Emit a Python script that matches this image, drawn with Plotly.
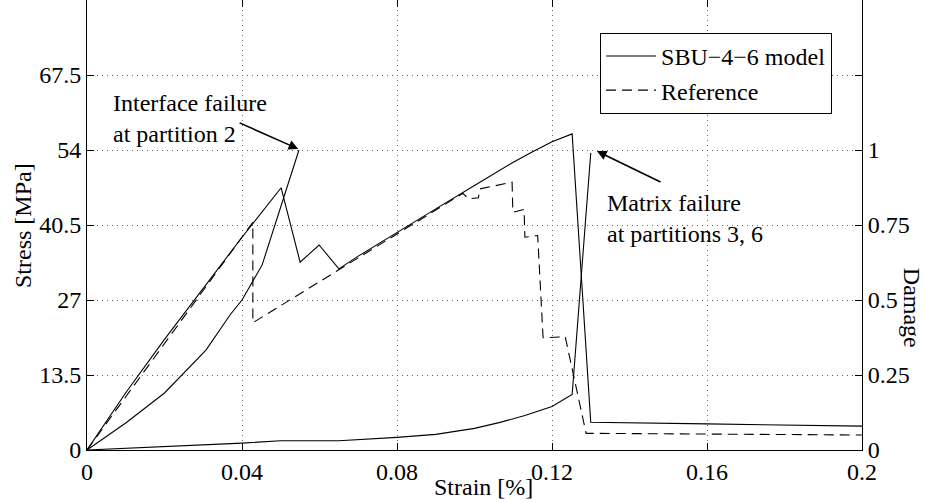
import plotly.graph_objects as go

# Stress-strain response of the SBU-4-6 model (solid) and the reference (dashed)
strain_model = [0.0, 0.01, 0.02, 0.03, 0.04, 0.0501, 0.055, 0.0599, 0.065, 0.07, 0.08,
                0.09, 0.1, 0.11, 0.115, 0.12, 0.1252, 0.130, 0.16, 0.2]
stress_model = [0.0, 10.3, 19.9, 29.2, 38.3, 47.2, 33.8, 36.9, 32.6, 34.9, 39.2,
                43.4, 47.6, 51.8, 53.7, 55.5, 56.9, 5.0, 4.7, 4.3]

strain_ref = [0.0, 0.0428, 0.0428, 0.065, 0.08, 0.09, 0.097, 0.0985, 0.101, 0.1014,
              0.1097, 0.1099, 0.1128, 0.113, 0.1163, 0.1177, 0.1234, 0.1288, 0.2]
stress_ref = [0.0, 41.0, 22.9, 32.4, 38.9, 43.1, 46.2, 45.2, 45.4, 47.0,
              48.2, 42.8, 43.3, 38.3, 38.6, 20.2, 20.4, 3.0, 2.7]

# Damage evolution (right axis)
strain_dmg_p2 = [0.0, 0.01, 0.02, 0.0245, 0.0307, 0.0369, 0.040, 0.0452, 0.0547]
damage_p2 = [0.0, 0.09, 0.19, 0.25, 0.333, 0.45, 0.50, 0.617, 1.0]

strain_dmg_p36 = [0.0, 0.02, 0.04, 0.05, 0.065, 0.08, 0.09, 0.1, 0.1066, 0.113,
                  0.12, 0.1252, 0.130]
damage_p36 = [0.0, 0.011, 0.023, 0.031, 0.031, 0.042, 0.052, 0.072, 0.092, 0.115,
              0.145, 0.185, 0.99]

strain_ticks = [0, 0.04, 0.08, 0.12, 0.16, 0.2]
strain_labels = ["0", "0.04", "0.08", "0.12", "0.16", "0.2"]
stress_ticks = [0, 13.5, 27, 40.5, 54, 67.5]
stress_labels = ["0", "13.5", "27", "40.5", "54", "67.5"]
damage_ticks = [0, 0.25, 0.5, 0.75, 1.0, 1.25]
damage_labels = ["0", "0.25", "0.5", "0.75", "1", ""]

FONT = "Liberation Serif"
line_solid = dict(color="black", width=1.1)
line_dash = dict(color="black", width=1.1, dash="10px,6px")

fig = go.Figure()
fig.add_trace(go.Scatter(x=strain_model, y=stress_model, mode="lines",
                         line=line_solid, name="SBU\u22124\u22126 model"))
fig.add_trace(go.Scatter(x=strain_ref, y=stress_ref, mode="lines",
                         line=line_dash, name="Reference"))
fig.add_trace(go.Scatter(x=strain_dmg_p2, y=damage_p2, mode="lines", yaxis="y2",
                         line=line_solid, showlegend=False))
fig.add_trace(go.Scatter(x=strain_dmg_p36, y=damage_p36, mode="lines", yaxis="y2",
                         line=line_solid, showlegend=False))

axis_common = dict(showline=True, linecolor="black", linewidth=1, ticks="inside",
                   ticklen=7, tickwidth=1, tickcolor="black", zeroline=False,
                   tickfont=dict(family=FONT, size=24, color="black"))
grid_style = dict(showgrid=True, gridcolor="#666", griddash="1px,4px", gridwidth=1)

fig.update_layout(
    width=927, height=503,
    margin=dict(l=87, r=65, t=0, b=53),
    paper_bgcolor="white", plot_bgcolor="white",
    font=dict(family=FONT, size=24, color="black"),
    xaxis=dict(range=[0, 0.2], tickvals=strain_ticks, ticktext=strain_labels,
               mirror="ticks", **grid_style, **axis_common),
    yaxis=dict(range=[0, 81], tickvals=stress_ticks, ticktext=stress_labels,
               mirror=True, **grid_style, **axis_common),
    yaxis2=dict(range=[0, 1.5], tickvals=damage_ticks, ticktext=damage_labels,
                overlaying="y", side="right", showgrid=False, **axis_common),
    legend=dict(x=0.662, y=0.927, xanchor="left", yanchor="top",
                bgcolor="white", bordercolor="black", borderwidth=1,
                font=dict(family=FONT, size=24, color="black"),
                itemwidth=50, tracegroupgap=0),
    showlegend=True,
)

annotations = [
    dict(text="Stress [MPa]", xref="paper", yref="paper", x=-0.0826, y=0.5,
         xanchor="center", yanchor="middle", textangle=-90, showarrow=False,
         font=dict(size=24)),
    dict(text="Damage", xref="paper", yref="paper", x=1.0645, y=0.316,
         xanchor="center", yanchor="middle", textangle=90, showarrow=False,
         font=dict(size=24)),
    dict(text="Strain [%]", xref="paper", yref="paper", x=0.512, y=-0.082,
         xanchor="center", yanchor="middle", showarrow=False, font=dict(size=24)),
    dict(text="Interface failure<br>at partition 2", xref="x", yref="y",
         x=0.0062, y=59.6, xanchor="left", yanchor="middle", align="left",
         showarrow=False, font=dict(size=24)),
    dict(text="Matrix failure<br>at partitions 3, 6", xref="x", yref="y",
         x=0.1337, y=41.7, xanchor="left", yanchor="middle", align="left",
         showarrow=False, font=dict(size=24)),
    dict(text="", xref="x", yref="y", x=0.0545, y=54.2, axref="x", ayref="y",
         ax=0.039, ay=59.0, showarrow=True, arrowhead=2, arrowsize=1.2,
         arrowwidth=1.6, arrowcolor="black"),
    dict(text="", xref="x", yref="y", x=0.1316, y=53.8, axref="x", ayref="y",
         ax=0.1484, ay=48.1, showarrow=True, arrowhead=2, arrowsize=1.2,
         arrowwidth=1.6, arrowcolor="black"),
]
fig.update_layout(annotations=annotations)

fig.write_html("out.html")
